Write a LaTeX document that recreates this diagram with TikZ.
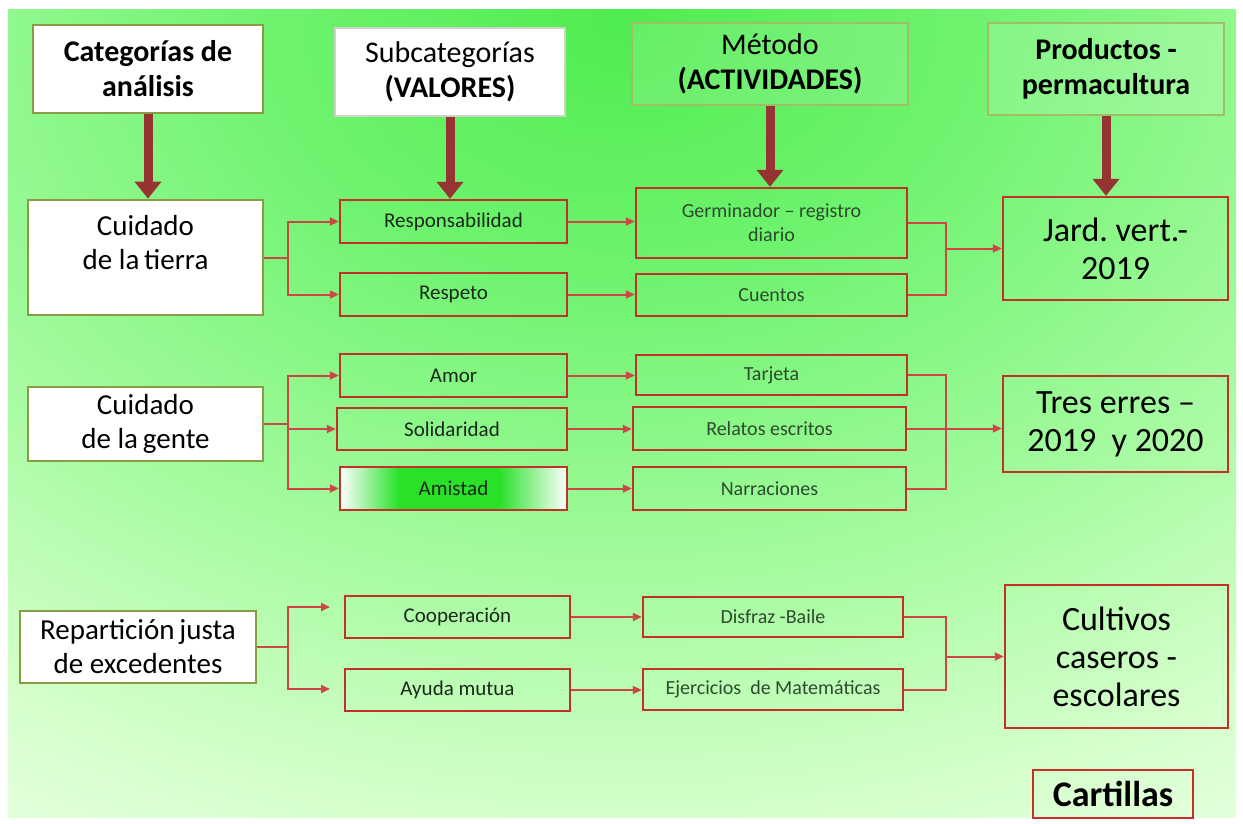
\documentclass[tikz,border=0pt]{standalone}
\usepackage{fontspec}
\setmainfont{Carlito}
\usetikzlibrary{arrows.meta,calc}
\frenchspacing
\definecolor{g0}{RGB}{80,236,80}
\definecolor{g1}{RGB}{112,243,112}
\definecolor{g2}{RGB}{160,250,155}
\definecolor{g3}{RGB}{212,255,202}
\definecolor{g4}{RGB}{232,255,226}
\definecolor{olivebd}{RGB}{138,155,70}
\definecolor{lightbd}{RGB}{205,212,195}
\definecolor{greenbd}{RGB}{160,190,100}
\definecolor{redbd}{RGB}{192,50,40}
\definecolor{conn}{RGB}{205,70,70}
\definecolor{thick}{RGB}{149,52,50}
\definecolor{valtxt}{RGB}{26,40,26}
\definecolor{acttxt}{RGB}{45,75,45}
\definecolor{amg}{RGB}{40,225,40}
\pgfdeclareradialshading{bgshade}{\pgfpoint{0bp}{0bp}}{color(0bp)=(g0); color(7bp)=(g1); color(14bp)=(g2); color(21bp)=(g3); color(25bp)=(g4); color(50bp)=(g4)}
\pgfdeclarehorizontalshading{amist}{100bp}{color(0bp)=(white); color(25bp)=(white); color(38bp)=(amg); color(60bp)=(amg); color(75bp)=(white); color(100bp)=(white)}
\begin{document}
\begin{tikzpicture}[x=1pt,y=-1pt,
  hdrbox/.style={inner sep=0pt, align=center, font=\fontsize{30}{35}\selectfont},
  leftbox/.style={draw=olivebd, line width=2.8pt, fill=white, inner sep=0pt, align=center, font=\fontsize{29}{34}\selectfont},
  valbox/.style={draw=redbd, line width=2.4pt, inner sep=0pt, align=center, text=valtxt, font=\fontsize{21}{24}\selectfont},
  actbox/.style={valbox, text=acttxt, font=\fontsize{20}{24}\selectfont},
  prodbox/.style={draw=redbd, line width=2.4pt, inner sep=0pt, align=center, font=\fontsize{34}{38}\selectfont},
  conline/.style={draw=conn, line width=2pt},
  conarrow/.style={conline, -{Triangle[length=9pt,width=8pt]}},
  bigarrow/.style={draw=thick, line width=9pt, -{Triangle[length=17pt,width=26pt]}}
]
% background
\fill[white] (0,0) rectangle (1243,824);
\begin{scope}
  \clip (8,10) rectangle (1236,817);
  \shade[shading=bgshade] (620,20) ellipse (1300 and 950);
\end{scope}

% headers
\node[hdrbox, draw=olivebd, line width=2.5pt, fill=white, font=\fontsize{30}{35}\selectfont\bfseries,
      minimum width=230pt, minimum height=88pt] (h1) at (148,69) {Categorías de\\análisis};
\node[hdrbox, draw=lightbd, line width=1.2pt, fill=white,
      minimum width=230pt, minimum height=88pt] (h2) at (450,72) {Subcategorías\\\textbf{(VALORES)}};
\node[hdrbox, draw=greenbd, line width=1.2pt, fill=white, fill opacity=0.12, text opacity=1,
      minimum width=276pt, minimum height=82pt] (h3) at (770,64) {Método\\\textbf{(ACTIVIDADES)}};
\node[hdrbox, draw=greenbd, line width=1.2pt, fill=white, fill opacity=0.15, text opacity=1, font=\fontsize{30}{35}\selectfont\bfseries,
      minimum width=236pt, minimum height=92pt] (h4) at (1106,69) {Productos -\\permacultura};

% row 1
\node[leftbox, minimum width=235pt, minimum height=115pt] (c1) at (145.5,257.5) {Cuidado\\de la\,tierra\rule[-30pt]{0pt}{30pt}};
\node[valbox, minimum width=227pt, minimum height=43pt] (resp) at (453.5,221.5) {Responsabilidad};
\node[valbox, minimum width=227pt, minimum height=43pt] (respeto) at (453.5,294.5) {Respeto};
\node[actbox, minimum width=271pt, minimum height=70pt] (germ) at (771.5,223) {Germinador – registro\\diario};
\node[actbox, minimum width=271pt, minimum height=42pt] (cuentos) at (771.5,295) {Cuentos};
\node[prodbox, minimum width=225pt, minimum height=103pt] (jard) at (1115.5,248.5) {Jard. vert.-\\2019};

% row 2
\node[leftbox, minimum width=235pt, minimum height=74pt] (c2) at (145.5,424) {Cuidado\\de la\,gente};
\node[valbox, minimum width=227pt, minimum height=43pt] (amor) at (453.5,375.5) {Amor};
\node[valbox, minimum width=230pt, minimum height=42pt] (soli) at (452,429) {Solidaridad};
\node[valbox, shade, shading=amist, minimum width=227pt, minimum height=43pt] (amis) at (453.5,488.5) {Amistad};
\node[actbox, minimum width=271pt, minimum height=40pt] (tarj) at (771.5,375) {Tarjeta};
\node[actbox, minimum width=273pt, minimum height=43pt] (relat) at (769.5,428.5) {Relatos escritos};
\node[actbox, minimum width=273pt, minimum height=43pt] (narr) at (769.5,488.5) {Narraciones};
\node[prodbox, minimum width=225pt, minimum height=96pt] (tres) at (1115.5,424) {Tres erres –\\2019\ \ y 2020};

% row 3
\node[leftbox, minimum width=236pt, minimum height=72pt] (c3) at (138,647) {Repartición\,justa\\de excedentes};
\node[valbox, minimum width=225pt, minimum height=42pt] (coop) at (457.5,617) {Cooperación};
\node[valbox, minimum width=225pt, minimum height=42pt] (ayuda) at (457.5,690) {Ayuda mutua};
\node[actbox, minimum width=260pt, minimum height=40pt] (disf) at (773,617) {Disfraz -Baile};
\node[actbox, minimum width=260pt, minimum height=41pt] (ejer) at (773,689.5) {Ejercicios\ \ de Matemáticas};
\node[prodbox, minimum width=223pt, minimum height=143pt] (cult) at (1116.5,656.5) {Cultivos\\caseros -\\escolares};
\node[prodbox, font=\fontsize{36}{40}\selectfont\bfseries, minimum width=160pt, minimum height=48pt] (cart) at (1113,794) {Cartillas};

% thick arrows
\draw[bigarrow] (h1.south) -- (h1.south |- c1.north);
\draw[bigarrow] (h2.south) -- (h2.south |- resp.north);
\draw[bigarrow] (h3.south) -- (h3.south |- germ.north);
\draw[bigarrow] (h4.south) -- (h4.south |- jard.north);

% row 1 connectors
\draw[conline] (c1.east) -- ++(24,0) coordinate (j1);
\draw[conarrow] (j1) |- (resp.west);
\draw[conarrow] (j1) |- (respeto.west);
\draw[conarrow] (resp.east) -- (germ.west |- resp.east);
\draw[conarrow] (respeto.east) -- (cuentos.west |- respeto.east);
\coordinate (k1) at ($(germ.east)+(38,0)$);
\draw[conline] (germ.east) -- (k1) |- (cuentos.east);
\draw[conarrow] (k1 |- jard.west) -- (jard.west);

% row 2 connectors
\draw[conline] (c2.east) -- ++(24,0) coordinate (j2);
\draw[conarrow] (j2) |- (amor.west);
\draw[conarrow] (j2) |- (soli.west);
\draw[conarrow] (j2) |- (amis.west);
\draw[conarrow] (amor.east) -- (tarj.west |- amor.east);
\draw[conarrow] (soli.east) -- (relat.west |- soli.east);
\draw[conarrow] (amis.east) -- (narr.west |- amis.east);
\coordinate (k2) at ($(tarj.east)+(38,0)$);
\draw[conline] (tarj.east) -- (k2) |- (narr.east);
\draw[conarrow] (relat.east) -- (tres.west |- relat.east);

% row 3 connectors
\draw[conline] (c3.east) -- ++(31,0) coordinate (j3);
\coordinate (a3) at (330,607);
\coordinate (b3) at (330,689);
\draw[conarrow] (j3) |- (a3);
\draw[conarrow] (j3) |- (b3);
\draw[conarrow] (coop.east) -- (disf.west |- coop.east);
\draw[conarrow] (ayuda.east) -- (ejer.west |- ayuda.east);
\coordinate (k3) at ($(disf.east)+(42,0)$);
\draw[conline] (disf.east) -- (k3) |- (ejer.east);
\draw[conarrow] (k3 |- cult.west) -- (cult.west);
\end{tikzpicture}
\end{document}
